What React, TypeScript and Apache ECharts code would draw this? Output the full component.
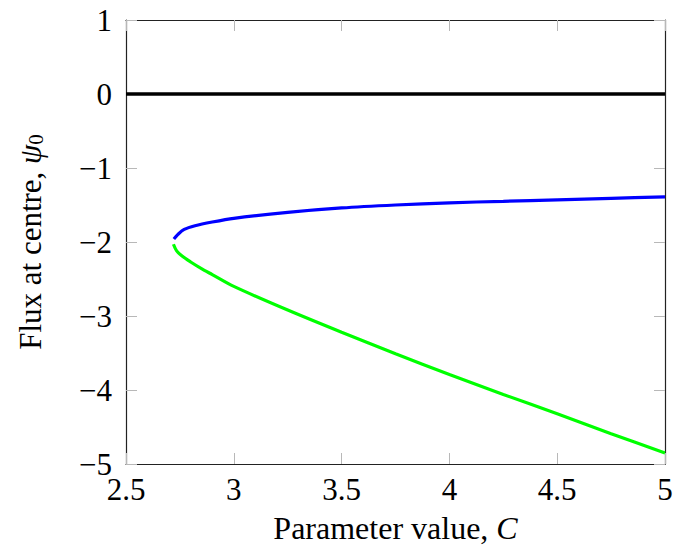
import React, { useEffect, useRef } from "react";
import * as echarts from "echarts";

const blueC = [2.722, 2.74, 2.77, 2.82, 2.9, 3.0, 3.25, 3.5, 3.75, 4.0, 4.25, 4.5, 4.75, 5.0];
const bluePsi = [-1.96, -1.9, -1.83, -1.78, -1.73, -1.68, -1.6, -1.54, -1.5, -1.47, -1.45, -1.43, -1.41, -1.39];
const greenC = [2.72, 2.735, 2.76, 2.8, 2.85, 2.9, 3.0, 3.25, 3.5, 3.75, 4.0, 4.25, 4.5, 4.75, 5.0];
const greenPsi = [-2.03, -2.12, -2.19, -2.27, -2.36, -2.44, -2.6, -2.92, -3.22, -3.51, -3.79, -4.06, -4.32, -4.59, -4.85];
const zeroC = [2.5, 5];
const zeroPsi = [0, 0];
const xTicks = [2.5, 3, 3.5, 4, 4.5, 5];
const yTicks = [-5, -4, -3, -2, -1, 0, 1];

const FONT = "Liberation Serif";

function pairs(xs: number[], ys: number[]) {
  return xs.map((x, i) => [x, ys[i]]);
}

function fmt(v: number) {
  return v < 0 ? "\u2212" + Math.abs(v) : String(v);
}

export default function App() {
  const ref = useRef<HTMLDivElement>(null);
  useEffect(() => {
    if (!ref.current) return;
    const chart = echarts.init(ref.current, null, { renderer: "svg" });
    const axisLine = { show: true, onZero: false, lineStyle: { color: "#222", width: 1.2 } };
    const tick = { show: true, inside: true, length: 11, lineStyle: { color: "#b8b8b8", width: 1 } };
    const xLabel = { color: "#000", fontSize: 31, fontFamily: FONT, margin: 10, formatter: fmt };
    const yLabel = { color: "#000", fontSize: 31, fontFamily: FONT, margin: 14, formatter: fmt };
    chart.setOption({
      animation: false,
      grid: { left: 126, right: 31, top: 20, bottom: 82 },
      xAxis: [
        {
          type: "value",
          min: xTicks[0],
          max: xTicks[xTicks.length - 1],
          interval: 0.5,
          splitLine: { show: false },
          axisLine,
          axisTick: tick,
          axisLabel: xLabel,
          name: "{a|Parameter value, }{i|C}",
          nameLocation: "middle",
          nameGap: 48,
          nameTextStyle: {
            color: "#000",
            fontSize: 32,
            fontFamily: FONT,
            rich: {
              a: { fontSize: 32, fontFamily: FONT, color: "#000" },
              i: { fontSize: 32, fontFamily: FONT, fontStyle: "italic", color: "#000" },
            },
          },
        },
        {
          type: "value",
          position: "top",
          min: xTicks[0],
          max: xTicks[xTicks.length - 1],
          interval: 0.5,
          splitLine: { show: false },
          axisLine,
          axisTick: tick,
          axisLabel: { ...xLabel, show: false },
        },
      ],
      yAxis: [
        {
          type: "value",
          min: yTicks[0],
          max: yTicks[yTicks.length - 1],
          interval: 1,
          splitLine: { show: false },
          axisLine,
          axisTick: tick,
          axisLabel: yLabel,
          name: "{a|Flux at centre, }{b|\u03c8}{c|0}",
          nameLocation: "middle",
          nameRotate: 90,
          nameGap: 80,
          nameTextStyle: {
            color: "#000",
            fontSize: 31,
            fontFamily: FONT,
            rich: {
              a: { fontSize: 31, lineHeight: 31, fontFamily: FONT, color: "#000" },
              b: { fontSize: 31, lineHeight: 31, fontFamily: FONT, fontStyle: "italic", color: "#000" },
              c: { fontSize: 21, lineHeight: 12, verticalAlign: "bottom", fontFamily: FONT, color: "#000" },
            },
          },
        },
        {
          type: "value",
          position: "right",
          min: yTicks[0],
          max: yTicks[yTicks.length - 1],
          interval: 1,
          splitLine: { show: false },
          axisLine,
          axisTick: tick,
          axisLabel: { ...yLabel, show: false },
        },
      ],
      series: [
        {
          type: "line",
          data: pairs(zeroC, zeroPsi),
          showSymbol: false,
          lineStyle: { color: "#000", width: 3.5 },
          z: 3,
        },
        {
          type: "line",
          data: pairs(blueC, bluePsi),
          showSymbol: false,
          smooth: 0.3,
          lineStyle: { color: "#0000ff", width: 3.2 },
        },
        {
          type: "line",
          data: pairs(greenC, greenPsi),
          showSymbol: false,
          smooth: 0.3,
          lineStyle: { color: "#00ff00", width: 3.2 },
        },
      ],
    });
    return () => chart.dispose();
  }, []);
  return (
    <div
      ref={ref}
      style={{ position: "absolute", left: 0, top: 0, width: 696, height: 549, background: "#fff" }}
    />
  );
}
